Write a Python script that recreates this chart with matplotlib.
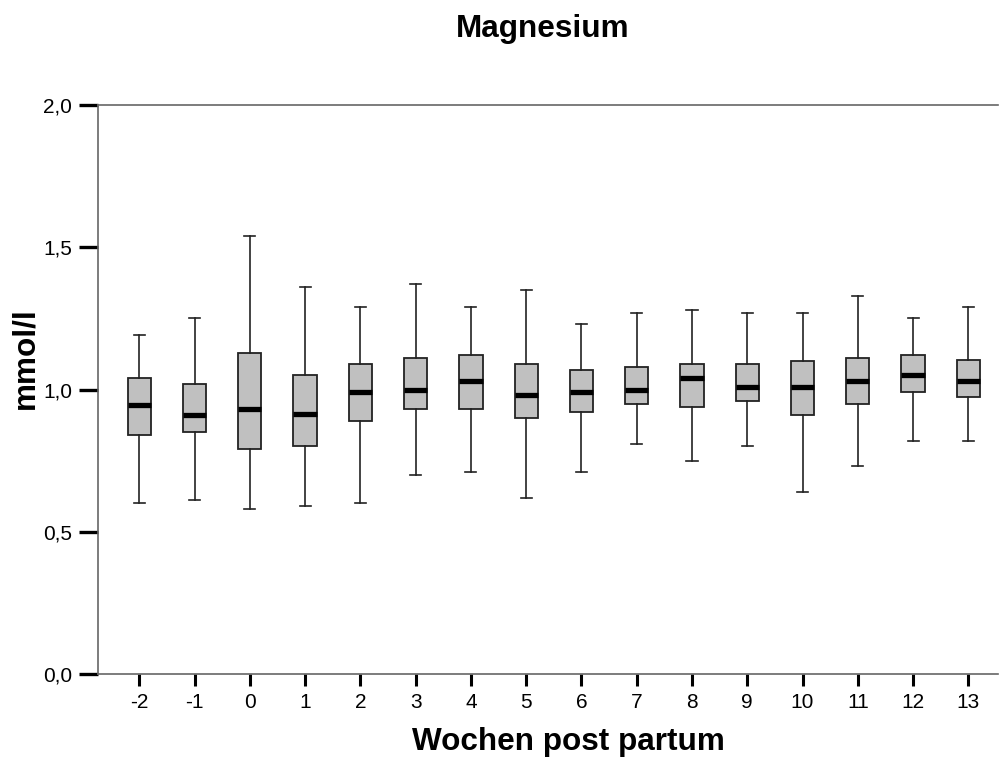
import matplotlib
matplotlib.use("Agg")
import matplotlib.pyplot as plt

# Weekly magnesium summary statistics (mmol/l)
weeks = [-2, -1, 0, 1, 2, 3, 4, 5, 6, 7, 8, 9, 10, 11, 12, 13]
whisker_low = [0.60, 0.61, 0.58, 0.59, 0.60, 0.70, 0.71, 0.62, 0.71, 0.81, 0.75, 0.80, 0.64, 0.73, 0.82, 0.82]
q1 =          [0.84, 0.85, 0.79, 0.80, 0.89, 0.93, 0.93, 0.90, 0.92, 0.95, 0.94, 0.96, 0.91, 0.95, 0.99, 0.975]
median =      [0.945, 0.91, 0.93, 0.915, 0.99, 1.00, 1.03, 0.98, 0.99, 1.00, 1.04, 1.01, 1.01, 1.03, 1.05, 1.03]
q3 =          [1.04, 1.02, 1.13, 1.05, 1.09, 1.11, 1.12, 1.09, 1.07, 1.08, 1.09, 1.09, 1.10, 1.11, 1.12, 1.105]
whisker_high = [1.19, 1.25, 1.54, 1.36, 1.29, 1.37, 1.29, 1.35, 1.23, 1.27, 1.28, 1.27, 1.27, 1.33, 1.25, 1.29]

y_ticks = [0.0, 0.5, 1.0, 1.5, 2.0]
y_tick_labels = ["0,0", "0,5", "1,0", "1,5", "2,0"]

plt.rcParams["font.family"] = ["Liberation Sans", "DejaVu Sans"]

fig = plt.figure(figsize=(9.99, 7.61), dpi=100)
ax = fig.add_axes([98 / 999, (761 - 674) / 761, 900 / 999, 569 / 761])

stats = []
for w, lo, a, m, b, hi in zip(weeks, whisker_low, q1, median, q3, whisker_high):
    stats.append({"label": str(w), "whislo": lo, "q1": a, "med": m, "q3": b, "whishi": hi, "fliers": []})

ax.bxp(
    stats,
    positions=weeks,
    widths=0.42,
    capwidths=0.2,
    patch_artist=True,
    showfliers=False,
    boxprops=dict(facecolor="#c0c0c0", edgecolor="#222222", linewidth=1.3),
    medianprops=dict(color="black", linewidth=3.8, solid_capstyle="butt"),
    whiskerprops=dict(color="#222222", linewidth=1.2),
    capprops=dict(color="#222222", linewidth=1.2),
)

ax.set_xlim(-2.747, 13.536)
ax.set_ylim(0, 2.0)
ax.set_xticks(weeks)
ax.set_xticklabels([str(w) for w in weeks], fontsize=15)
ax.set_yticks(y_ticks)
ax.set_yticklabels(y_tick_labels, fontsize=15)

ax.tick_params(axis="y", direction="out", length=13.5, width=2.4, color="black", pad=5)
ax.tick_params(axis="x", direction="out", length=8.5, width=2.2, color="black", pad=5)

for side in ("left", "bottom", "top"):
    ax.spines[side].set_color("#666666")
    ax.spines[side].set_linewidth(1.2)
ax.spines["right"].set_visible(False)

fig.text(543 / 999, 1 - 29 / 761, "Magnesium", ha="center", va="center", fontsize=22.7, fontweight="bold")
fig.text(568 / 999, 1 - 742 / 761, "Wochen post partum", ha="center", va="center", fontsize=22.7, fontweight="bold")
fig.text(25 / 999, 1 - 358 / 761, "mmol/l", ha="center", va="center", rotation=90, fontsize=22.7, fontweight="bold")

fig.savefig("out.png", dpi=100)
